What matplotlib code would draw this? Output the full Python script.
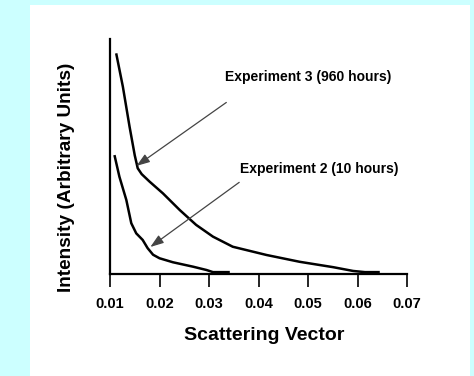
#!/usr/bin/env python3

import matplotlib
matplotlib.use('Agg')
import matplotlib.pyplot as plt
from matplotlib.patches import Rectangle

# Scattering curves (intensity in arbitrary units)
exp3_x = [0.01125, 0.0126, 0.01395, 0.0150, 0.0156, 0.0164, 0.0180, 0.0207,
          0.0241, 0.0274, 0.0308, 0.0348, 0.0416, 0.0483, 0.0551, 0.0591,
          0.0615, 0.0645]
exp3_y = [93.9, 79.7, 62.7, 50.5, 45.0, 42.5, 39.3, 34.3,
          27.2, 20.9, 15.9, 11.6, 8.1, 5.2, 2.9, 1.3,
          0.8, 0.8]

exp2_x = [0.0109, 0.0119, 0.0133, 0.0143, 0.0153, 0.0166, 0.0176, 0.0187,
          0.0200, 0.0227, 0.0268, 0.0295, 0.0308, 0.0342]
exp2_y = [50.6, 41.4, 31.5, 21.6, 17.3, 14.5, 11.0, 8.2,
          6.7, 5.0, 3.1, 1.7, 0.8, 0.8]

xticks = [0.01, 0.02, 0.03, 0.04, 0.05, 0.06, 0.07]
xtick_labels = ['0.01', '0.02', '0.03', '0.04', '0.05', '0.06', '0.07']

labels = ['Experiment 3 (960 hours)', 'Experiment 2 (10 hours)']
label_pos = [(0.0332, 84.0), (0.0363, 44.5)]
arrow_tail = [(0.0335, 73.0), (0.0361, 39.0)]
arrow_head = [(0.01535, 46.0), (0.01815, 11.5)]


def main():
  plt.rcParams['font.family'] = ['Liberation Sans', 'DejaVu Sans']
  fig = plt.figure(figsize=(4.74, 3.76), dpi=100)
  fig.patch.set_facecolor('#ccffff')
  fig.patches.append(Rectangle((30 / 474, 0), 440 / 474, 371 / 376,
                               transform=fig.transFigure,
                               facecolor='white', edgecolor='none',
                               zorder=-10))

  ax = fig.add_axes([110 / 474, 102 / 376, 297 / 474, 235 / 376])
  ax.set_facecolor('none')
  ax.plot(exp3_x, exp3_y, color='black', lw=1.8, solid_capstyle='butt')
  ax.plot(exp2_x, exp2_y, color='black', lw=1.8, solid_capstyle='butt')

  for text, pos, tail, head in zip(labels, label_pos, arrow_tail, arrow_head):
    ax.text(pos[0], pos[1], text, fontsize=10, fontweight='bold',
            va='center', ha='left')
    ax.annotate('', xy=head, xytext=tail,
                arrowprops=dict(arrowstyle='-|>,head_length=0.8,head_width=0.28',
                                color='#444444', lw=0.9,
                                shrinkA=0, shrinkB=0))

  ax.set_xlim(0.01, 0.07)
  ax.set_ylim(0, 100)
  ax.set_xticks(xticks)
  ax.set_xticklabels(xtick_labels, fontsize=10.5, fontweight='bold')
  ax.set_yticks([])
  ax.tick_params(axis='x', direction='out', length=9.5, width=1.2, pad=7)
  for side in ('top', 'right'):
    ax.spines[side].set_visible(False)
  for side in ('left', 'bottom'):
    ax.spines[side].set_linewidth(1.6)

  ax.set_xlabel('Scattering Vector', fontsize=14, fontweight='bold',
                labelpad=14)
  ax.xaxis.set_label_coords(0.518, -0.225)
  ax.set_ylabel('Intensity (Arbitrary Units)', fontsize=13.7,
                fontweight='bold')
  ax.yaxis.set_label_coords(-0.118, 0.413)

  fig.savefig('out.png', dpi=100, facecolor=fig.get_facecolor())


if __name__ == '__main__':
  main()
